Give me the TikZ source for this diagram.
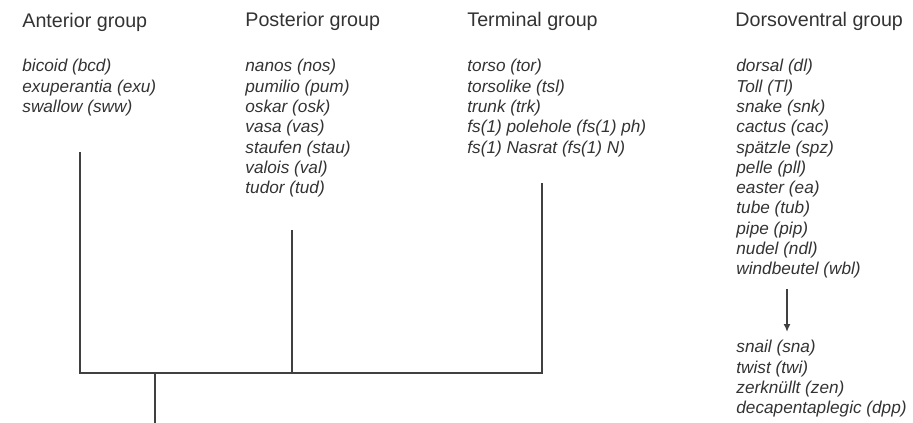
\documentclass[tikz,border=0pt]{standalone}
\usepackage{fontspec}
\setmainfont{Liberation Sans}
\usetikzlibrary{arrows.meta,positioning}
\newcommand{\ArrTip}{Latex[length=4,width=3.5]}
\tikzset{grouptitle/.style={anchor=north west,inner sep=0pt,font=\fontsize{9.85}{11}\selectfont,text=black!80}}
\tikzset{genelist/.style={anchor=north west,inner sep=0pt,align=left,font=\fontsize{8.6}{10.15}\selectfont\itshape,text=black!80}}
\tikzset{branch/.style={draw=black!75,line width=1pt}}
\begin{document}
\begin{tikzpicture}[x=0.5pt,y=-0.5pt]
\useasboundingbox(0,0)rectangle(913,422);
% group titles
\node(anttitle)[grouptitle]at(22,13){Anterior group};
\node(posttitle)[grouptitle]at(245,12){Posterior group};
\node(termtitle)[grouptitle]at(467,12){Terminal group};
\node(dvtitle)[grouptitle]at(735,12){Dorsoventral group};
% gene lists
\node(antgenes)[genelist]at(22,59){bicoid (bcd)\\exuperantia (exu)\\swallow (sww)};
\node(postgenes)[genelist]at(245,59){nanos (nos)\\pumilio (pum)\\oskar (osk)\\vasa (vas)\\staufen (stau)\\valois (val)\\tudor (tud)};
\node(termgenes)[genelist]at(467,59){torso (tor)\\torsolike (tsl)\\trunk (trk)\\fs(1) polehole (fs(1) ph)\\fs(1) Nasrat (fs(1) N)};
\node(dvgenes)[genelist]at(736,59){dorsal (dl)\\Toll (Tl)\\snake (snk)\\cactus (cac)\\spätzle (spz)\\pelle (pll)\\easter (ea)\\tube (tub)\\pipe (pip)\\nudel (ndl)\\windbeutel (wbl)};
\node(dvlate)[genelist]at(736,340){snail (sna)\\twist (twi)\\zerknüllt (zen)\\decapentaplegic (dpp)};
% tree
\coordinate(anttip)at(80,152);\coordinate(antjoin)at(80,373);
\coordinate(posttip)at(292,230);\coordinate(postjoin)at(292,373);
\coordinate(termtip)at(542,183);\coordinate(termjoin)at(542,373);
\coordinate(rootjoin)at(155,373);\coordinate(roottip)at(155,430);
\draw[branch](anttip)--(antjoin)--(termjoin)--(termtip);
\draw[branch](posttip)--(postjoin);
\draw[branch](rootjoin)--(roottip);
% dorsoventral cascade
\coordinate(dvaxis)at(787,0);
\draw[branch,-{\ArrTip}]([yshift=-5pt]dvgenes.south-|dvaxis)--([yshift=4pt]dvlate.north-|dvaxis);
\end{tikzpicture}
\end{document}
